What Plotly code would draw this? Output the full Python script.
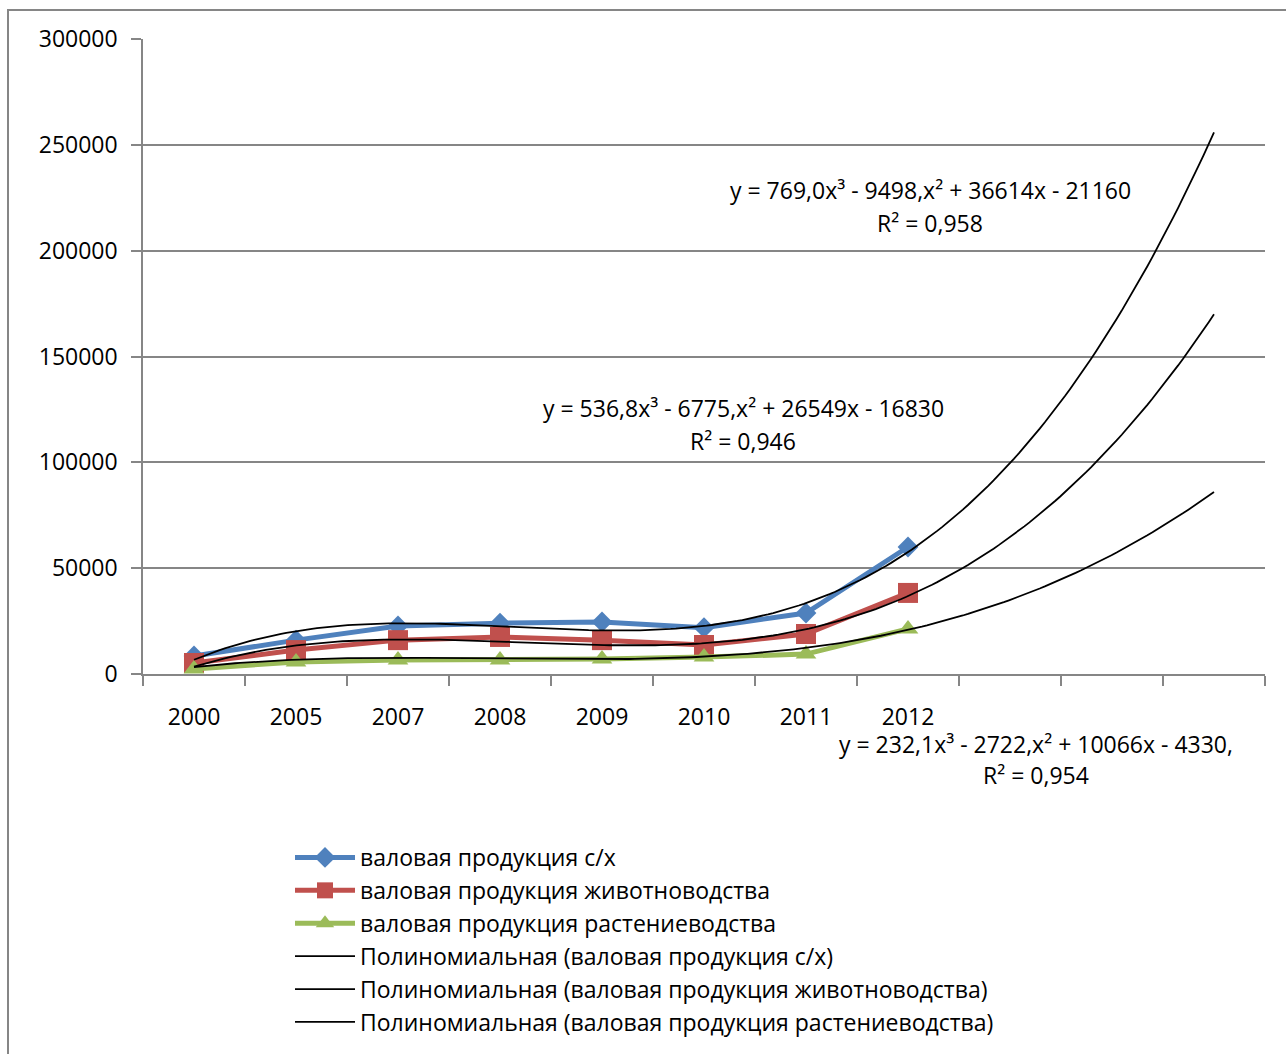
import numpy as np
import plotly.graph_objects as go

years = ["2000", "2005", "2007", "2008", "2009", "2010", "2011", "2012"]
x_pos = [1, 2, 3, 4, 5, 6, 7, 8]

gross_total = [8500, 16000, 22700, 24000, 24600, 21900, 28800, 60000]
gross_livestock = [5200, 11300, 16000, 17500, 16000, 13700, 18900, 38300]
gross_crop = [2400, 5700, 6600, 6600, 7100, 8000, 9400, 21300]

# polynomial trendline coefficients as displayed (a3, a2, a1, a0)
coef_total = [769.0, -9498.0, 36614.0, -21160.0]
coef_livestock = [536.8, -6775.0, 26549.0, -16830.0]
coef_crop = [232.1, -2722.0, 10066.0, -4330.0]

names = ["валовая продукция с/х", "валовая продукция животноводства", "валовая продукция растениеводства"]
trend_names = ["Полиномиальная (валовая продукция с/х)",
               "Полиномиальная (валовая продукция животноводства)",
               "Полиномиальная (валовая продукция растениеводства)"]
eq_texts = [
    ["y = 769,0x³ - 9498,x² + 36614x - 21160", "R² = 0,958"],
    ["y = 536,8x³ - 6775,x² + 26549x - 16830", "R² = 0,946"],
    ["y = 232,1x³ - 2722,x² + 10066x - 4330,", "R² = 0,954"],
]

FONT = "Open Sans"
FS = 23
GRID = "#868686"
W, H = 1286, 1054
L, R, T, B = 143, 21, 39, 380
pw, ph = W - L - R, H - T - B

def px_to_paper(px, py):
    return (px - L) / pw, (H - B - py) / ph

fig = go.Figure()
colors = ["#4F81BD", "#C0504D", "#9BBB59"]
symbols = ["diamond", "square", "triangle-up"]
sizes = [16, 20, 18]
for vals, name, c, s, sz in zip([gross_total, gross_livestock, gross_crop], names, colors, symbols, sizes):
    fig.add_trace(go.Scatter(x=x_pos, y=vals, mode="lines+markers", name=name,
                             line=dict(color=c, width=5),
                             marker=dict(symbol=s, size=sz, color=c)))

xt = np.linspace(1, 11, 200)
for coef, name in zip([coef_total, coef_livestock, coef_crop], trend_names):
    yt = np.polyval(coef, xt)
    fig.add_trace(go.Scatter(x=xt, y=yt, mode="lines", name=name,
                             line=dict(color="black", width=1.8)))

# equation annotations (line centers in pixel coords)
eq_pos = [(930, 190, 223), (743, 408, 441), (1036, 744, 775)]
for (cx, y1, y2), lines in zip(eq_pos, eq_texts):
    for yy, txt in zip((y1, y2), lines):
        ax, ay = px_to_paper(cx, yy)
        fig.add_annotation(text=txt, x=ax, y=ay, xref="paper", yref="paper",
                           xanchor="center", yanchor="middle", showarrow=False,
                           font=dict(family=FONT, size=FS, color="black"))

# outer chart border
bx0, by0 = px_to_paper(8, 10)
bx1, by1 = px_to_paper(1300, 1070)
fig.add_shape(type="rect", xref="paper", yref="paper", x0=bx0, y0=by1, x1=bx1, y1=by0,
              line=dict(color=GRID, width=2), layer="below")

lx, ly = px_to_paper(290, 836)
fig.update_layout(
    width=W, height=H,
    margin=dict(l=L, r=R, t=T, b=B, autoexpand=False),
    paper_bgcolor="white", plot_bgcolor="white",
    font=dict(family=FONT, size=FS, color="black"),
    showlegend=True,
    legend=dict(x=lx, y=ly, xanchor="left", yanchor="top", itemwidth=60,
                font=dict(family=FONT, size=FS, color="black"),
                bgcolor="rgba(0,0,0,0)", tracegroupgap=0),
    xaxis=dict(range=[0.5, 11.5], tickmode="array", tickvals=x_pos, ticktext=years,
               ticks="", showgrid=False, zeroline=False, automargin=False,
               showline=True, linecolor=GRID, linewidth=1.5,
               ticklabelstandoff=22,
               minor=dict(tickmode="array", tickvals=[0.5 + i for i in range(12)],
                          ticks="outside", ticklen=10, tickcolor=GRID, tickwidth=1.5,
                          showgrid=False),
               tickfont=dict(family=FONT, size=FS, color="black")),
    yaxis=dict(range=[0, 300000], dtick=50000, tickformat="d", automargin=False,
               showgrid=True, gridcolor=GRID, gridwidth=1.5, zeroline=False,
               showline=True, linecolor=GRID, linewidth=1.5,
               ticks="outside", ticklen=10, tickcolor=GRID, tickwidth=1.5,
               ticklabelstandoff=9,
               tickfont=dict(family=FONT, size=FS, color="black")),
)

fig.write_html("out.html", config={"displayModeBar": False},
               post_script="document.body.style.margin='0';document.body.style.overflow='hidden';")
